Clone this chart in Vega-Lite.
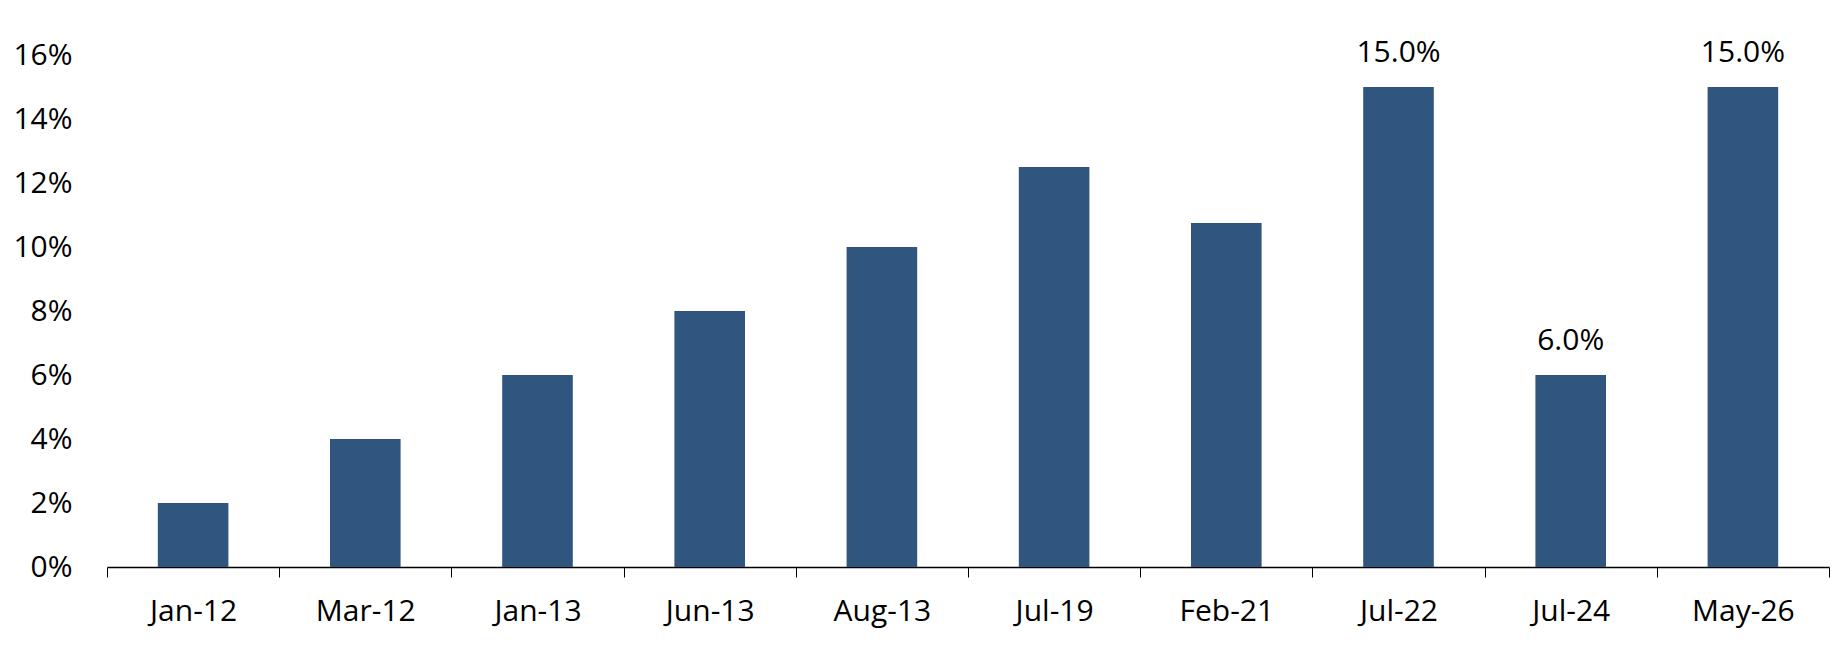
{
  "$schema": "https://vega.github.io/schema/vega-lite/v6.json",
  "width": 1722,
  "height": 512,
  "autosize": {"type": "none"},
  "padding": {"left": 107, "top": 55, "right": 19, "bottom": 99},
  "background": "white",
  "config": {
    "view": {"stroke": null},
    "font": "Open Sans"
  },
  "data": {
    "values": [
      {"date": "Jan-12", "rate": 0.02, "label": ""},
      {"date": "Mar-12", "rate": 0.04, "label": ""},
      {"date": "Jan-13", "rate": 0.06, "label": ""},
      {"date": "Jun-13", "rate": 0.08, "label": ""},
      {"date": "Aug-13", "rate": 0.10, "label": ""},
      {"date": "Jul-19", "rate": 0.125, "label": ""},
      {"date": "Feb-21", "rate": 0.1075, "label": ""},
      {"date": "Jul-22", "rate": 0.15, "label": "15.0%"},
      {"date": "Jul-24", "rate": 0.06, "label": "6.0%"},
      {"date": "May-26", "rate": 0.15, "label": "15.0%"}
    ]
  },
  "encoding": {
    "x": {
      "field": "date",
      "type": "nominal",
      "sort": null,
      "title": null,
      "scale": {"paddingInner": 0, "paddingOuter": 0},
      "axis": {
        "labelAngle": 0,
        "labelFontSize": 30,
        "labelColor": "#000000",
        "labelPadding": 19,
        "domainColor": "#000000",
        "domainWidth": 1.5,
        "ticks": true,
        "tickColor": "#000000",
        "tickWidth": 1,
        "tickSize": 10,
        "tickBand": "extent"
      }
    },
    "y": {
      "field": "rate",
      "type": "quantitative",
      "title": null,
      "scale": {"domain": [0, 0.16], "nice": false},
      "axis": {
        "format": ".0%",
        "values": [0, 0.02, 0.04, 0.06, 0.08, 0.10, 0.12, 0.14, 0.16],
        "labelFontSize": 30,
        "labelColor": "#000000",
        "labelPadding": 35,
        "domain": false,
        "ticks": false,
        "grid": false
      }
    }
  },
  "layer": [
    {"mark": {"type": "bar", "color": "#30557F", "width": {"band": 0.41}}},
    {
      "mark": {"type": "text", "baseline": "bottom", "dy": -19, "fontSize": 30, "color": "#000000"},
      "encoding": {"text": {"field": "label"}}
    }
  ]
}
